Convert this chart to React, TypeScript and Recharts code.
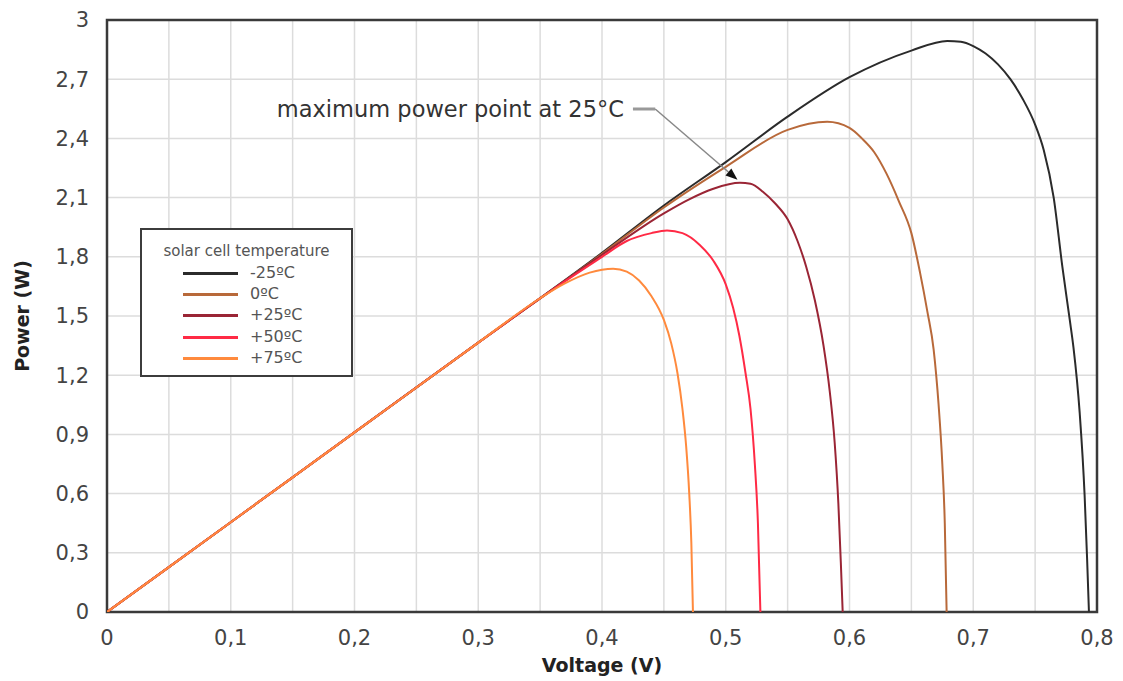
import React from 'react';
import {
  LineChart,
  Line,
  XAxis,
  YAxis,
  CartesianGrid,
  ReferenceArea,
  ReferenceLine,
} from 'recharts';

// voltage (V) / power (W) pairs
const voltsM25 = [0, 0.1, 0.2, 0.3, 0.4, 0.45, 0.5, 0.55, 0.6, 0.65, 0.679, 0.69, 0.7, 0.71, 0.72, 0.73, 0.74, 0.75, 0.757, 0.765, 0.772, 0.778, 0.781, 0.786, 0.79, 0.792, 0.7935];
const powerM25 = [0, 0.455, 0.91, 1.365, 1.82, 2.06, 2.28, 2.51, 2.71, 2.845, 2.894, 2.89, 2.868, 2.83, 2.775, 2.7, 2.6, 2.47, 2.34, 2.1, 1.75, 1.48, 1.34, 1.01, 0.59, 0.27, 0];

const volts0 = [0, 0.1, 0.2, 0.3, 0.4, 0.45, 0.5, 0.55, 0.582, 0.6, 0.61, 0.62, 0.63, 0.64, 0.65, 0.657, 0.663, 0.668, 0.672, 0.675, 0.677, 0.6785];
const power0 = [0, 0.455, 0.91, 1.365, 1.815, 2.05, 2.256, 2.443, 2.484, 2.453, 2.4, 2.33, 2.22, 2.08, 1.92, 1.72, 1.52, 1.33, 1.05, 0.75, 0.45, 0];

const volts25 = [0, 0.1, 0.2, 0.3, 0.4, 0.45, 0.47, 0.49, 0.5115, 0.52, 0.53, 0.54, 0.55, 0.558, 0.565, 0.572, 0.579, 0.584, 0.588, 0.591, 0.593, 0.5945];
const power25 = [0, 0.455, 0.91, 1.365, 1.81, 2.02, 2.09, 2.145, 2.175, 2.17, 2.13, 2.07, 1.99, 1.88, 1.75, 1.58, 1.35, 1.12, 0.86, 0.55, 0.25, 0];

const volts50 = [0, 0.1, 0.2, 0.3, 0.35, 0.4, 0.42, 0.44, 0.4525, 0.465, 0.479, 0.49, 0.5, 0.506, 0.511, 0.516, 0.52, 0.5235, 0.526, 0.528];
const power50 = [0, 0.455, 0.91, 1.365, 1.59, 1.8, 1.88, 1.92, 1.933, 1.92, 1.86, 1.78, 1.66, 1.54, 1.4, 1.21, 1.03, 0.75, 0.45, 0];

const volts75 = [0, 0.1, 0.2, 0.3, 0.35, 0.37, 0.39, 0.409, 0.42, 0.43, 0.44, 0.45, 0.456, 0.461, 0.465, 0.468, 0.4705, 0.4722, 0.4735];
const power75 = [0, 0.455, 0.91, 1.365, 1.59, 1.665, 1.72, 1.74, 1.725, 1.68, 1.6, 1.48, 1.36, 1.21, 1.03, 0.84, 0.6, 0.35, 0];

const seriesNames = ['-25ºC', '0ºC', '+25ºC', '+50ºC', '+75ºC'];
const seriesColors = ['#2b2b2b', '#b8693a', '#9a2535', '#ff2a45', '#ff8a3d'];

const xTicks = [0, 0.1, 0.2, 0.3, 0.4, 0.5, 0.6, 0.7, 0.8];
const xGrid = [0, 0.05, 0.1, 0.15, 0.2, 0.25, 0.3, 0.35, 0.4, 0.45, 0.5, 0.55, 0.6, 0.65, 0.7, 0.75, 0.8];
const yTicks = [0, 0.3, 0.6, 0.9, 1.2, 1.5, 1.8, 2.1, 2.4, 2.7, 3];

// annotation anchor (data coords): label elbow and arrow tip at the 25°C peak
const mppLabel = 'maximum power point at 25°C';
const elbowStart = { x: 0.425, y: 2.549 };
const elbowEnd = { x: 0.443, y: 2.549 };
const arrowTip = { x: 0.5095, y: 2.19 };

const toPoints = (v: number[], p: number[]) => v.map((x, i) => ({ v: x, p: p[i] }));

const seriesData = [
  toPoints(voltsM25, powerM25),
  toPoints(volts0, power0),
  toPoints(volts25, power25),
  toPoints(volts50, power50),
  toPoints(volts75, power75),
];

const comma = (n: number) => String(n).replace('.', ',');

const FONT = '"DejaVu Sans", Verdana, sans-serif';

// legend drawn as an overlay so it does not eat plot space
const LegendBox = () => (
  <div
    style={{
      position: 'absolute',
      left: 140,
      top: 228,
      width: 213,
      height: 149,
      boxSizing: 'border-box',
      border: '2px solid #3c3c3c',
      background: '#fff',
      fontFamily: FONT,
    }}
  >
    <div style={{ position: 'absolute', left: 0, right: 0, top: 12, textAlign: 'center', fontSize: 15, color: '#555' }}>
      solar cell temperature
    </div>
    {seriesNames.map((name, i) => (
      <div key={name} style={{ position: 'absolute', left: 0, top: 33 + i * 21.2, height: 20, width: '100%' }}>
        <div style={{ position: 'absolute', left: 41, top: 9, width: 55, height: 3, background: seriesColors[i] }} />
        <div style={{ position: 'absolute', left: 108, top: 0, fontSize: 16, lineHeight: '20px', color: '#555' }}>
          {name}
        </div>
      </div>
    ))}
  </div>
);

const LabelElbow = (props: any) => {
  const { x1, y1, x2, y2 } = props;
  return (
    <g>
      <line x1={x1} y1={y1} x2={x2} y2={y2} stroke="#999" strokeWidth={3} />
      <text x={x1 - 9} y={y1} dy="0.35em" textAnchor="end" fontFamily={FONT} fontSize={22.5} fill="#333">
        {mppLabel}
      </text>
    </g>
  );
};

const ArrowShape = (props: any) => {
  const { x1, y1, x2, y2 } = props;
  const a = Math.atan2(y2 - y1, x2 - x1);
  const len = 12;
  const w = 4.5;
  const bx = x2 - len * Math.cos(a);
  const by = y2 - len * Math.sin(a);
  const px = -Math.sin(a) * w;
  const py = Math.cos(a) * w;
  return (
    <g>
      <line x1={x1} y1={y1} x2={bx} y2={by} stroke="#888" strokeWidth={1.5} />
      <polygon points={`${x2},${y2} ${bx + px},${by + py} ${bx - px},${by - py}`} fill="#111" />
    </g>
  );
};

export default function App() {
  return (
    <div style={{ position: 'absolute', left: 0, top: 0, width: 1123, height: 681, background: '#fff' }}>
      <LineChart width={1123} height={681} margin={{ top: 20, right: 26, bottom: 0, left: 0 }}>
        <CartesianGrid stroke="#dcdcdc" strokeWidth={1.5} verticalValues={xGrid} horizontalValues={yTicks} />
        <XAxis
          type="number"
          dataKey="v"
          domain={[0, 0.8]}
          ticks={xTicks}
          allowDataOverflow
          height={69}
          axisLine={false}
          tickLine={false}
          tickMargin={12}
          tickFormatter={comma}
          tick={{ fontFamily: FONT, fontSize: 21, fill: '#444' }}
          label={{
            value: 'Voltage (V)',
            position: 'insideBottom',
            offset: 9,
            style: { fontFamily: FONT, fontSize: 19, fontWeight: 'bold', fill: '#222' },
          }}
        />
        <YAxis
          type="number"
          domain={[0, 3]}
          ticks={yTicks}
          allowDataOverflow
          width={107}
          axisLine={false}
          tickLine={false}
          tickMargin={12}
          tickFormatter={comma}
          tick={{ fontFamily: FONT, fontSize: 21, fill: '#444' }}
          label={{
            content: ({ viewBox }: any) => {
              const cy = viewBox.y + viewBox.height / 2;
              return (
                <text
                  x={22}
                  y={cy}
                  transform={`rotate(-90 22 ${cy})`}
                  textAnchor="middle"
                  dominantBaseline="central"
                  fontFamily={FONT}
                  fontSize={19}
                  fontWeight="bold"
                  fill="#222"
                >
                  Power (W)
                </text>
              );
            },
          }}
        />
        {seriesData.map((d, i) => (
          <Line
            key={seriesNames[i]}
            data={d}
            dataKey="p"
            name={seriesNames[i]}
            type="monotone"
            stroke={seriesColors[i]}
            strokeWidth={2}
            dot={false}
            activeDot={false}
            isAnimationActive={false}
          />
        ))}
        <ReferenceArea x1={0} x2={0.8} y1={0} y2={3} fill="none" fillOpacity={0} stroke="#3a3a3a" strokeWidth={2.5} />
        <ReferenceLine segment={[elbowStart, elbowEnd]} shape={<LabelElbow />} />
        <ReferenceLine segment={[elbowEnd, arrowTip]} shape={<ArrowShape />} />
      </LineChart>
      <LegendBox />
    </div>
  );
}
